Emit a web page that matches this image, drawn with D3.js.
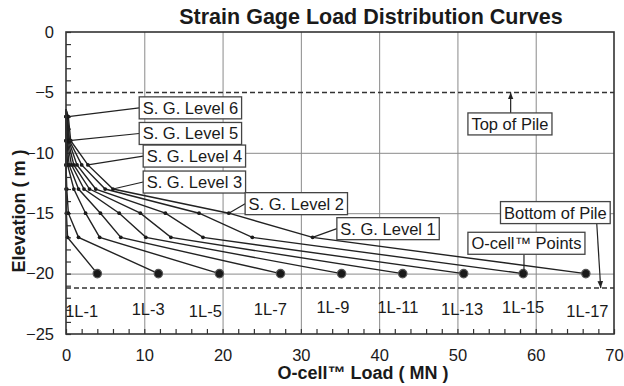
<!DOCTYPE html>
<html>
<head>
<meta charset="utf-8">
<script src="https://cdn.jsdelivr.net/npm/d3@7"></script>
<style>
  body { margin: 0; background: #fff; }
  text { font-family: Arial, "Liberation Sans", sans-serif; fill: #1a1a1a; }
</style>
</head>
<body>
<div id="chart"></div>
<script>
// curve names and elevations of the gage levels (top, level 6 .. level 1, O-cell)
const curveNames = ['1L-1', '1L-3', '1L-5', '1L-7', '1L-9', '1L-11', '1L-13', '1L-15', '1L-17']
const gageElevations = [-6.4, -7, -9, -11, -13, -15, -17, -20]

// loads (MN) at each elevation
const load1L1 = [0, 0, 0, 0, 0, 0.05, 0.2, 4.0]
const load1L3 = [0, 0, 0, 0, 0.1, 0.3, 1.6, 11.8]
const load1L5 = [0, 0.05, 0.05, 0.2, 1.0, 2.5, 4.3, 19.6]
const load1L7 = [0, 0.05, 0.1, 0.4, 1.6, 4.4, 7.0, 27.4]
const load1L9 = [0, 0.1, 0.15, 0.7, 2.3, 6.8, 10.2, 35.2]
const load1L11 = [0, 0.1, 0.25, 1.0, 3.0, 9.5, 13.4, 43.0]
const load1L13 = [0, 0.15, 0.35, 1.4, 3.8, 12.7, 17.5, 50.8]
const load1L15 = [0, 0.2, 0.45, 2.0, 5.0, 17.0, 23.8, 58.4]
const load1L17 = [0, 0.3, 0.6, 2.8, 6.0, 20.8, 31.5, 66.4]
const curveLoads = [load1L1, load1L3, load1L5, load1L7, load1L9, load1L11, load1L13, load1L15, load1L17]

// where the curve names sit (load, elevation)
const labelLoads = [2.0, 10.5, 17.8, 26.1, 34.1, 42.4, 50.6, 58.4, 66.6]
const labelElevations = [-23.63, -23.46, -23.63, -23.46, -23.29, -23.29, -23.46, -23.29, -23.63]

const xTicks = [0, 10, 20, 30, 40, 50, 60, 70]
const yTicks = [0, -5, -10, -15, -20, -25]
const topOfPile = -5
const bottomOfPile = -21.2

// set the dimensions and margins of the graph
const margin = { top: 32, right: 10, bottom: 52, left: 66 }
const width = 548
const height = 302

const x = d3.scaleLinear().domain([0, 70]).range([0, width])
const y = d3.scaleLinear().domain([0, -25]).range([0, height])

const svg = d3.select('#chart')
  .append('svg')
  .attr('width', 624)
  .attr('height', 386)

svg.append('text')
  .attr('x', 371)
  .attr('y', 24)
  .attr('text-anchor', 'middle')
  .style('font-size', '21.5px')
  .style('font-weight', 'bold')
  .text('Strain Gage Load Distribution Curves')

const defs = svg.append('defs')
defs.append('marker')
  .attr('id', 'arrow')
  .attr('viewBox', '0 -5 10 10')
  .attr('refX', 10)
  .attr('refY', 0)
  .attr('markerWidth', 7)
  .attr('markerHeight', 7)
  .attr('markerUnits', 'userSpaceOnUse')
  .attr('orient', 'auto')
  .append('path')
  .attr('d', 'M0,-4L10,0L0,4Z')
  .style('fill', '#222')

const g = svg.append('g')
  .attr('transform', 'translate(' + margin.left + ',' + margin.top + ')')

// grid
g.append('g')
  .attr('transform', 'translate(0,' + height + ')')
  .call(d3.axisBottom(x).tickValues(xTicks.slice(1, -1)).tickSize(-height).tickFormat(''))
  .call(a => a.select('.domain').remove())
  .selectAll('line').style('stroke', '#8a8a8a')

g.append('g')
  .call(d3.axisLeft(y).tickValues([-10, -15, -20]).tickSize(-width).tickFormat(''))
  .call(a => a.select('.domain').remove())
  .selectAll('line').style('stroke', '#8a8a8a')

// minor ticks pointing in
g.append('g')
  .attr('transform', 'translate(0,' + height + ')')
  .call(d3.axisBottom(x).tickValues(d3.range(0, 71, 2)).tickSize(-5).tickFormat(''))
  .call(a => a.select('.domain').remove())
  .selectAll('line').style('stroke', '#333').style('stroke-width', 1.2)

g.append('g')
  .call(d3.axisLeft(y).tickValues(d3.range(0, -26, -1)).tickSize(-5).tickFormat(''))
  .call(a => a.select('.domain').remove())
  .selectAll('line').style('stroke', '#333').style('stroke-width', 1.2)

// tick labels
const xAxis = g.append('g')
  .attr('transform', 'translate(0,' + height + ')')
  .call(d3.axisBottom(x).tickValues(xTicks).tickSize(0).tickPadding(15))
xAxis.select('.domain').remove()
xAxis.selectAll('text').style('font-size', '16.5px').style('fill', '#1a1a1a')

const yAxis = g.append('g')
  .call(d3.axisLeft(y).tickValues(yTicks).tickSize(0).tickPadding(12))
yAxis.select('.domain').remove()
yAxis.selectAll('text').style('font-size', '16.5px').style('fill', '#1a1a1a')

// pile top / bottom
g.selectAll('.pile')
  .data([topOfPile, bottomOfPile])
  .enter()
  .append('line')
  .attr('x1', x(0))
  .attr('x2', x(70))
  .attr('y1', d => y(d))
  .attr('y2', d => y(d))
  .style('stroke', '#333')
  .style('stroke-width', 1.5)
  .style('stroke-dasharray', '5,3')

// load curves
const line = d3.line()
  .x(d => x(d.load))
  .y(d => y(d.elev))

const curves = curveLoads.map((loads, i) => ({
  name: curveNames[i],
  points: loads.map((load, j) => ({ load, elev: gageElevations[j], idx: j }))
}))

g.selectAll('.curve')
  .data(curves)
  .enter()
  .append('path')
  .attr('d', c => line(c.points))
  .style('fill', 'none')
  .style('stroke', '#222')
  .style('stroke-width', 1.4)

const pts = curves.flatMap(c => c.points.filter(p => p.idx > 0))

g.selectAll('.pt')
  .data(pts)
  .enter()
  .append('circle')
  .attr('cx', d => x(d.load))
  .attr('cy', d => y(d.elev))
  .attr('r', d => d.idx === gageElevations.length - 1 ? 4.2 : 1.9)
  .style('fill', '#1a1a1a')
  .style('stroke', d => d.idx === gageElevations.length - 1 ? '#555' : 'none')
  .style('stroke-width', 1.2)

g.selectAll('.curveLabel')
  .data(curveNames)
  .enter()
  .append('text')
  .attr('x', (d, i) => x(labelLoads[i]))
  .attr('y', (d, i) => y(labelElevations[i]))
  .attr('text-anchor', 'middle')
  .style('font-size', '16.5px')
  .text(d => d)

// annotations
const notes = [
  { text: 'S. G. Level 6', bx: 9.35, by: -6.28, tx: 0.3, ty: -7, from: 'left' },
  { text: 'S. G. Level 5', bx: 9.35, by: -8.4, tx: 0.4, ty: -9, from: 'left' },
  { text: 'S. G. Level 4', bx: 9.86, by: -10.27, tx: 2.8, ty: -11, from: 'left' },
  { text: 'S. G. Level 3', bx: 9.86, by: -12.42, tx: 6.0, ty: -13, from: 'left' },
  { text: 'S. G. Level 2', bx: 22.88, by: -14.21, tx: 20.8, ty: -15, from: 'left' },
  { text: 'S. G. Level 1', bx: 34.6, by: -16.28, tx: 31.5, ty: -17, from: 'left' },
  { text: 'O-cell\u2122 Points', bx: 51.34, by: -17.49, sx: 58.5, tx: 58.5, ty: -20, from: 'bottom' },
  { text: 'Bottom of Pile', bx: 55.5, by: -14.95, sx: 67.8, tx: 68.3, ty: -21.2, from: 'bottom', arrow: true },
  { text: 'Top of Pile', bx: 51.34, by: -7.61, sx: 56.8, tx: 56.8, ty: -5, from: 'top', arrow: true }
]

const pad = 3.5
const boxH = 22

notes.forEach(n => {
  const ng = g.append('g')
  const rect = ng.append('rect')
  const t = ng.append('text')
    .attr('x', x(n.bx) + pad)
    .attr('y', y(n.by))
    .attr('dy', '0.36em')
    .style('font-size', '16.5px')
    .text(n.text)
  const w = t.node().getComputedTextLength() + pad * 2
  rect
    .attr('x', x(n.bx))
    .attr('y', y(n.by) - boxH / 2)
    .attr('width', w)
    .attr('height', boxH)
    .style('fill', '#fff')
    .style('stroke', '#444')
    .style('stroke-width', 1.3)

  let sx, sy
  if (n.from === 'left') { sx = x(n.bx); sy = y(n.by) }
  if (n.from === 'bottom') { sx = x(n.sx); sy = y(n.by) + boxH / 2 }
  if (n.from === 'top') { sx = x(n.sx); sy = y(n.by) - boxH / 2 }

  ng.insert('line', 'rect')
    .attr('x1', sx)
    .attr('y1', sy)
    .attr('x2', x(n.tx))
    .attr('y2', y(n.ty))
    .style('stroke', '#222')
    .style('stroke-width', 1.2)
    .attr('marker-end', n.arrow ? 'url(#arrow)' : null)
})

// frame
g.append('rect')
  .attr('width', width)
  .attr('height', height)
  .style('fill', 'none')
  .style('stroke', '#333')
  .style('stroke-width', 1.6)

// axis titles
svg.append('text')
  .attr('transform', 'translate(25,211) rotate(-90)')
  .attr('text-anchor', 'middle')
  .style('font-size', '18px')
  .style('font-weight', 'bold')
  .text('Elevation  ( m )')

svg.append('text')
  .attr('x', 363)
  .attr('y', 379)
  .attr('text-anchor', 'middle')
  .style('font-size', '18px')
  .style('font-weight', 'bold')
  .text('O-cell\u2122 Load  ( MN )')
</script>
</body>
</html>
